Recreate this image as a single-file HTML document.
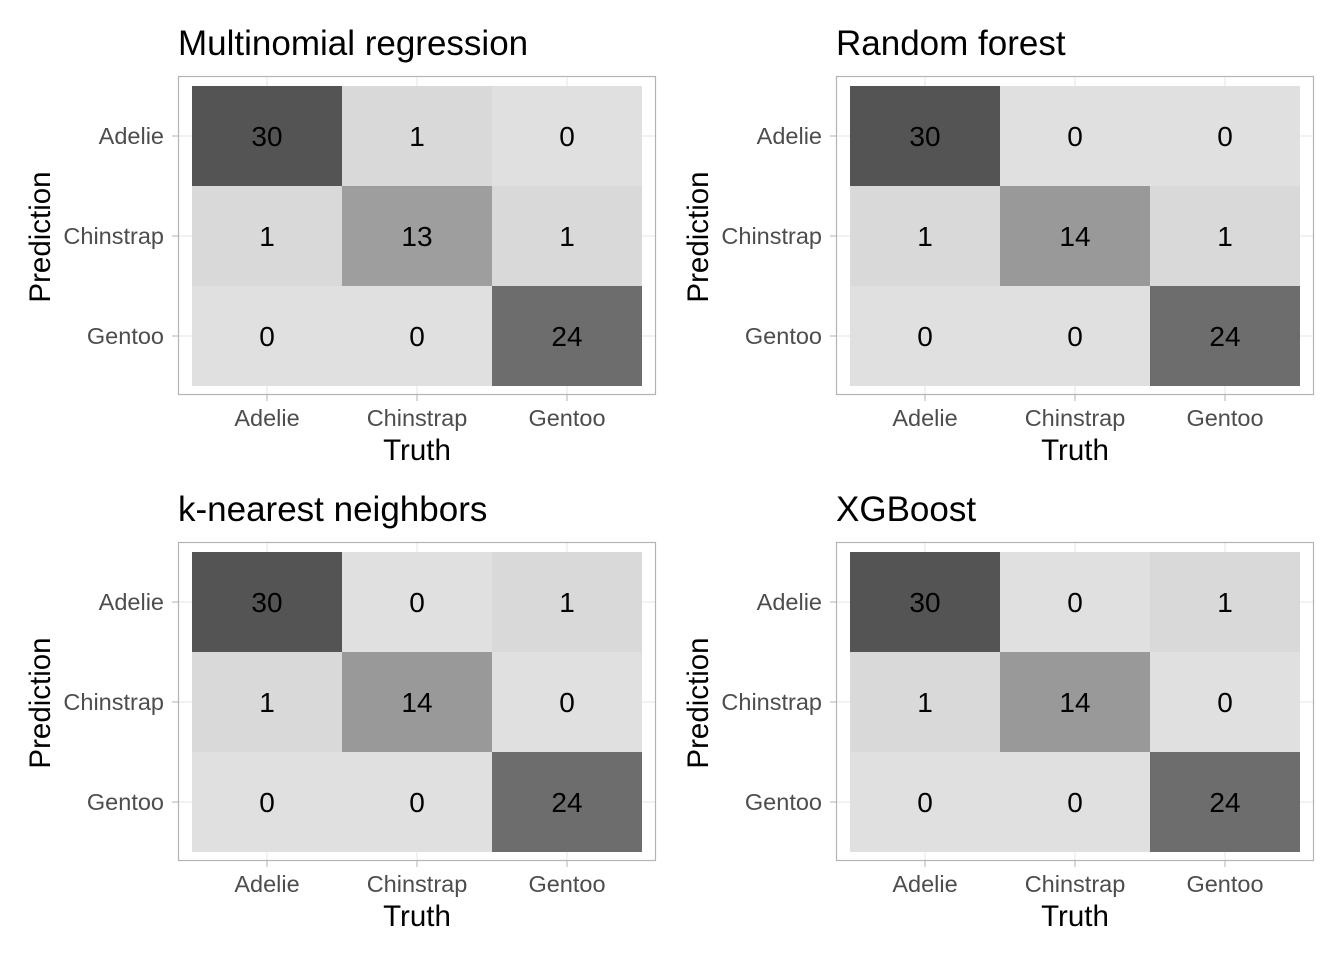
<!DOCTYPE html>
<html><head><meta charset="utf-8"><style>
body{margin:0;background:#fff;}
svg text{font-family:"Liberation Sans",Arial,sans-serif;}
</style></head><body>
<svg id="chart" width="1344" height="960" xmlns="http://www.w3.org/2000/svg"></svg>
<script>
const classes = ["Adelie","Chinstrap","Gentoo"];
const titles = ["Multinomial regression","Random forest","k-nearest neighbors","XGBoost"];
// values[model][predRow][truthCol]
const mMultinom = [[30,1,0],[1,13,1],[0,0,24]];
const mForest = [[30,0,0],[1,14,1],[0,0,24]];
const mKnn = [[30,0,1],[1,14,0],[0,0,24]];
const mXgb = [[30,0,1],[1,14,0],[0,0,24]];
const matrices = [mMultinom,mForest,mKnn,mXgb];

const NS="http://www.w3.org/2000/svg";
const svg=document.getElementById('chart');
function mk(tag,attrs,parent){const e=document.createElementNS(NS,tag);for(const k in attrs)e.setAttribute(k,attrs[k]);(parent||svg).appendChild(e);return e;}
function fillFor(v,max){const t=v/max;const g=Math.round(224-140*Math.pow(t,0.9));return `rgb(${g},${g},${g})`;}

const offsets=[[0,0],[658,0],[0,466],[658,466]];
matrices.forEach((m,p)=>{
  const ox=offsets[p][0], oy=offsets[p][1];
  const g=mk('g',{transform:`translate(${ox},${oy})`});
  
  
  const x0=192,y0=86,cw=150,ch=100;
  const xs=i=>x0+cw*i+cw/2, ys=j=>y0+ch*j+ch/2;
  const max=Math.max(...m.flat());
  for(let i=0;i<3;i++){
    mk('line',{x1:xs(i),x2:xs(i),y1:76,y2:395,stroke:'#e6e6e6','stroke-width':1},g);
    mk('line',{x1:178,x2:656,y1:ys(i),y2:ys(i),stroke:'#e6e6e6','stroke-width':1},g);
  }
  m.forEach((row,j)=>row.forEach((v,i)=>{
    const r=mk('rect',{x:x0+cw*i,y:y0+ch*j,width:cw,height:ch,fill:fillFor(v,max)},g);
    
    
    const t=mk('text',{x:xs(i),y:ys(j)+10,'text-anchor':'middle','font-size':28,fill:'#000'},g);
    t.textContent=v;
    
    
  }));
  mk('rect',{x:178.5,y:76.5,width:477,height:318,fill:'none',stroke:'#b3b3b3','stroke-width':1.2},g);
  classes.forEach((c,i)=>{
    mk('line',{x1:xs(i),x2:xs(i),y1:395,y2:401,stroke:'#b3b3b3'},g);
    const tx=mk('text',{x:xs(i),y:426,'text-anchor':'middle','font-size':23.5,fill:'#4d4d4d'},g);
    tx.textContent=c;
    
    
    mk('line',{x1:172,x2:178,y1:ys(i),y2:ys(i),stroke:'#b3b3b3'},g);
    const ty=mk('text',{x:164,y:ys(i)+8,'text-anchor':'end','font-size':23.5,fill:'#4d4d4d'},g);
    ty.textContent=c;
    
    
  });
  const tt=mk('text',{x:178,y:55,'font-size':35,fill:'#000'},g);
  tt.textContent=titles[p];
  
  
  const xt=mk('text',{x:417,y:460,'text-anchor':'middle','font-size':29.5,fill:'#000'},g);
  xt.textContent='Truth';
  
  
  const yt=mk('text',{x:0,y:0,'text-anchor':'middle','font-size':29.5,fill:'#000',transform:'translate(50,237) rotate(-90)'},g);
  yt.textContent='Prediction';
  
  
});
</script>
</body></html>
